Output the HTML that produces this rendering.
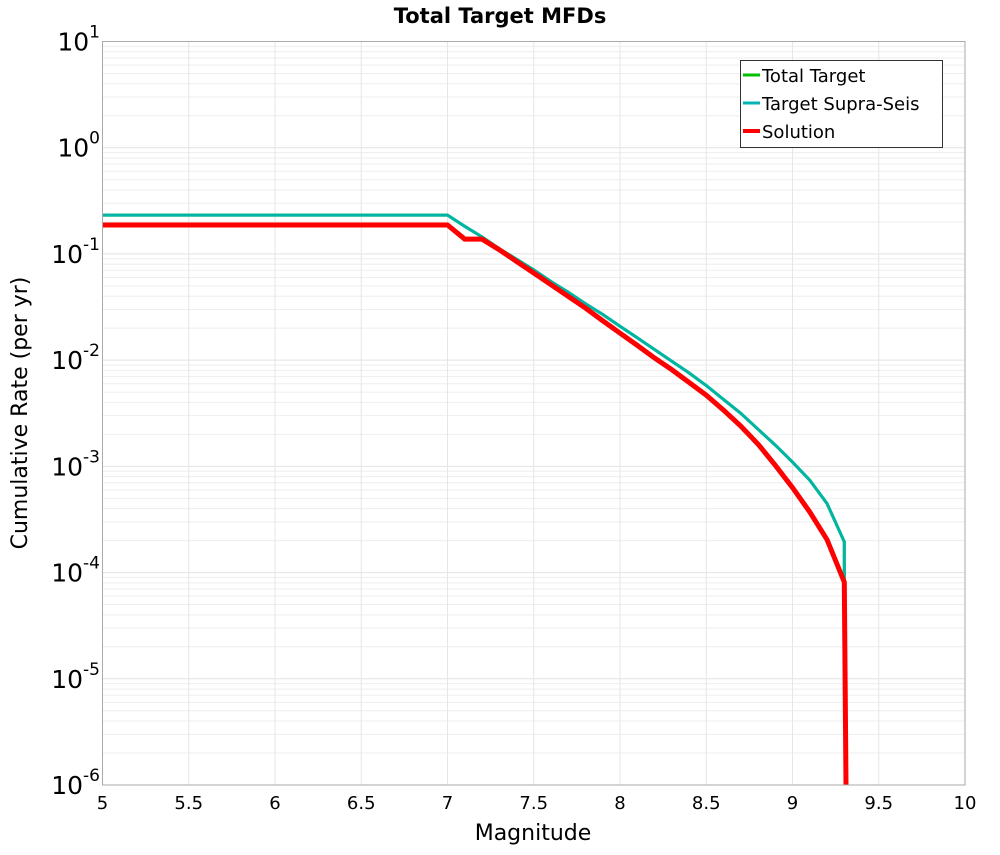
<!DOCTYPE html>
<html><head><meta charset="utf-8"><style>
body{margin:0;background:#fff;}
svg text{font-family:"DejaVu Sans","Liberation Sans",sans-serif;}
</style></head><body>
<svg id="chart" width="1000" height="850" xmlns="http://www.w3.org/2000/svg">
<text x="500" y="23" text-anchor="middle" font-size="21" font-weight="bold">Total Target MFDs</text>
<g id="grid"></g>
<g id="ticks"></g>
<g id="series"></g>
<rect x="102.5" y="41.5" width="862.5" height="743.5" fill="none" stroke="#aaa" stroke-width="1"/>
<text x="533" y="840" text-anchor="middle" font-size="22">Magnitude</text>
<text transform="translate(27,413) rotate(-90)" text-anchor="middle" font-size="22">Cumulative Rate (per yr)</text>
<g>
<rect x="740.5" y="60.5" width="202" height="87" fill="#fff" stroke="#333" stroke-width="1"/>
<line x1="743" y1="75" x2="760" y2="75" stroke="#00c000" stroke-width="3"/>
<text x="762" y="82" font-size="18">Total Target</text>
<line x1="743" y1="103" x2="760" y2="103" stroke="#00b4b4" stroke-width="3"/>
<text x="762" y="110" font-size="18">Target Supra-Seis</text>
<line x1="743" y1="131" x2="760" y2="131" stroke="#ff0000" stroke-width="4"/>
<text x="762" y="138" font-size="18">Solution</text>
</g>
</svg>
<script>
const mags = [5.0,7.0,7.1,7.2,7.3,7.4,7.5,7.6,7.7,7.8,7.9,8.0,8.1,8.2,8.3,8.4,8.5,8.6,8.7,8.8,8.9,9.0,9.1,9.2,9.3,9.3];
const targetLog = [-0.634,-0.634,-0.74,-0.84,-0.95,-1.05,-1.15,-1.26,-1.36,-1.47,-1.57,-1.68,-1.79,-1.90,-2.01,-2.12,-2.24,-2.37,-2.50,-2.65,-2.80,-2.96,-3.13,-3.35,-3.71,-4.09];
const solMags = [5.0,7.0,7.1,7.2,7.3,7.4,7.5,7.6,7.7,7.8,7.9,8.0,8.1,8.2,8.3,8.4,8.5,8.6,8.7,8.8,8.9,9.0,9.1,9.2,9.3,9.31];
const solLog = [-0.728,-0.728,-0.86,-0.86,-0.96,-1.07,-1.18,-1.29,-1.40,-1.51,-1.63,-1.745,-1.86,-1.98,-2.09,-2.21,-2.33,-2.47,-2.62,-2.79,-2.99,-3.20,-3.43,-3.69,-4.09,-6.0];
const xTicks = [5,5.5,6,6.5,7,7.5,8,8.5,9,9.5,10];
const yDecades = [1,0,-1,-2,-3,-4,-5,-6];
const NS='http://www.w3.org/2000/svg';
const X0=102.5,X1=965,Y0=41.5,Y1=785;
const xs=m=>X0+(m-5)/5*(X1-X0);
const ys=l=>Y0+(1-l)/7*(Y1-Y0);
function mk(tag,attrs,parent){const e=document.createElementNS(NS,tag);for(const k in attrs)e.setAttribute(k,attrs[k]);parent.appendChild(e);return e;}
const grid=document.getElementById('grid'),ticks=document.getElementById('ticks'),series=document.getElementById('series');
for(let d=-6;d<1;d++){for(let k=1;k<=9;k++){const y=ys(d+Math.log10(k));
const l=mk('line',{x1:X0,x2:X1,y1:y,y2:y,stroke:k===1?'#e2e2e2':'#eeeeee','stroke-width':1},grid);

}}
xTicks.forEach(t=>{const x=xs(t);
const l=mk('line',{x1:x,x2:x,y1:Y0,y2:Y1,stroke:'#e6e6e6','stroke-width':1},grid);


const tx=mk('text',{x:x,y:809,'text-anchor':'middle','font-size':18},ticks);tx.textContent=String(t);

});
yDecades.forEach(d=>{const y=ys(d);
const tx=mk('text',{x:88,y:y+9,'text-anchor':'end','font-size':25},ticks);


const b=document.createElementNS(NS,'tspan');b.textContent='10';tx.appendChild(b);
const s=document.createElementNS(NS,'tspan');s.setAttribute('dy','-13');s.setAttribute('font-size','17');s.textContent=String(d);tx.appendChild(s);
tx.setAttribute('x',String(100-0));tx.setAttribute('text-anchor','end');});
function path(mx,ly,color,w,name){const d=mx.map((m,i)=>(i?'L':'M')+xs(m).toFixed(1)+','+ys(ly[i]).toFixed(1)).join(' ');
const p=mk('path',{d:d,fill:'none',stroke:color,'stroke-width':w,'stroke-linejoin':'miter'},series);

}
path(mags,targetLog,'#00c000',3,'line-total-target');
path(mags,targetLog,'#00b4a8',3,'line-target-supra-seis');
path(solMags,solLog,'#ff0000',5,'line-solution');
</script>
</body></html>
